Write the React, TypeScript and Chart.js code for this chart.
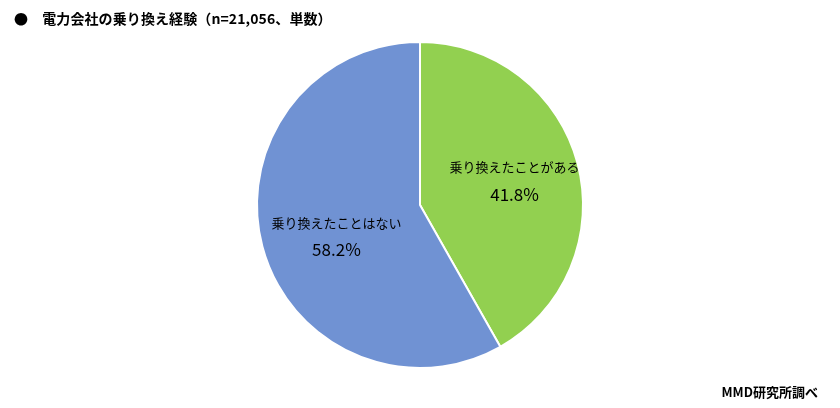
import React, { useEffect, useRef } from "react";
import { Chart, registerables } from "chart.js";

Chart.register(...registerables);

const categories = ["乗り換えたことがある", "乗り換えたことはない"];
const values = [41.8, 58.2];
const colors = ["#92D050", "#7092D3"];
const titleText = "●　電力会社の乗り換え経験（n=21,056、単数）";
const sourceText = "MMD研究所調べ";

const FONT = '"Noto Sans CJK JP", "Noto Sans", sans-serif';
const labelRadius = [0.6, 0.53];
const labelShiftY = [0, 9];

const labelPlugin = {
  id: "sliceLabels",
  afterDatasetsDraw(chart: any) {
    const meta = chart.getDatasetMeta(0);
    const ctx = chart.ctx;
    ctx.save();
    ctx.fillStyle = "#000";
    ctx.textAlign = "center";
    ctx.textBaseline = "middle";
    meta.data.forEach((arc: any, i: number) => {
      const { x, y, startAngle, endAngle, outerRadius } = arc.getProps(
        ["x", "y", "startAngle", "endAngle", "outerRadius"],
        true
      );
      const mid = (startAngle + endAngle) / 2;
      const d = outerRadius * labelRadius[i];
      const cx = x + Math.cos(mid) * d;
      const cy = y + Math.sin(mid) * d + labelShiftY[i];
      ctx.font = `13px ${FONT}`;
      ctx.fillText(categories[i], cx, cy - 13);
      ctx.font = `17px ${FONT}`;
      ctx.fillText(values[i].toFixed(1) + "%", cx, cy + 14);
    });
    ctx.restore();
  },
};

export default function App() {
  const ref = useRef<HTMLCanvasElement | null>(null);
  useEffect(() => {
    document.body.style.margin = "0";
    const chart = new Chart(ref.current!, {
      type: "pie",
      data: {
        labels: categories,
        datasets: [
          {
            data: values,
            backgroundColor: colors,
            borderColor: "#ffffff",
            borderWidth: 2,
          },
        ],
      },
      options: {
        animation: false,
        responsive: false,
        maintainAspectRatio: false,
        layout: { padding: { top: 41, bottom: 39, left: 0, right: 0 } },
        plugins: {
          legend: { display: false },
          tooltip: { enabled: false },
          title: { display: false },
        },
      },
      plugins: [labelPlugin],
    });
    return () => chart.destroy();
  }, []);
  return (
    <div
      style={{
        position: "relative",
        width: 840,
        height: 408,
        background: "#fff",
        overflow: "hidden",
      }}
    >
      <canvas ref={ref} width={840} height={408} style={{ display: "block" }} />
      <div
        style={{
          position: "absolute",
          left: 14,
          top: 8,
          fontFamily: FONT,
          fontWeight: "bold",
          fontSize: 14,
          letterSpacing: 0.1,
          lineHeight: "20px",
          whiteSpace: "nowrap",
          color: "#000",
        }}
      >
        {titleText}
      </div>
      <div
        style={{
          position: "absolute",
          right: 22,
          top: 382,
          fontFamily: FONT,
          fontWeight: "bold",
          fontSize: 13,
          lineHeight: "20px",
          whiteSpace: "nowrap",
          color: "#000",
        }}
      >
        {sourceText}
      </div>
    </div>
  );
}
